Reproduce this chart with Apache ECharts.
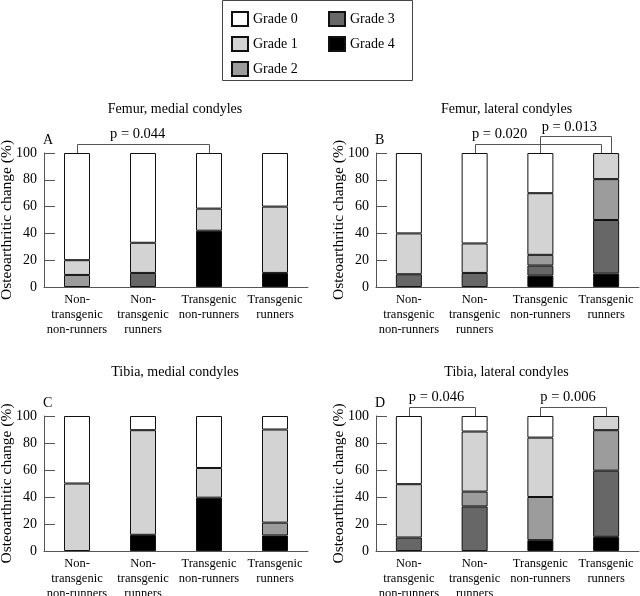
<!DOCTYPE html>
<html>
<head>
<meta charset="utf-8">
<script src="https://cdn.jsdelivr.net/npm/echarts@6/dist/echarts.min.js"></script>
<style>
html,body{margin:0;padding:0;background:#fff;}
#chart{width:640px;height:596px;}
</style>
</head>
<body>
<div id="chart"></div>
<script>
// ---------- data ----------
const categories = ['Non-\ntransgenic\nnon-runners', 'Non-\ntransgenic\nrunners', 'Transgenic\nnon-runners', 'Transgenic\nrunners'];
const grades = ['Grade 0', 'Grade 1', 'Grade 2', 'Grade 3', 'Grade 4'];
const panelTitles = ['Femur, medial condyles', 'Femur, lateral condyles', 'Tibia, medial condyles', 'Tibia, lateral condyles'];
const panelLetters = ['A', 'B', 'C', 'D'];

// Femur, medial condyles (A)
const femurMedialG0 = [80, 67, 41.5, 40];
const femurMedialG1 = [11, 22.5, 16.5, 49.5];
const femurMedialG2 = [9, 0, 0, 0];
const femurMedialG3 = [0, 10.5, 0, 0];
const femurMedialG4 = [0, 0, 42, 10.5];
// Femur, lateral condyles (B)
const femurLateralG0 = [60, 67.5, 30, 0];
const femurLateralG1 = [30.5, 22, 46, 19.5];
const femurLateralG2 = [0, 0, 8, 30.5];
const femurLateralG3 = [9.5, 10.5, 7.5, 40];
const femurLateralG4 = [0, 0, 8.5, 10];
// Tibia, medial condyles (C)
const tibiaMedialG0 = [50, 10.5, 38.5, 10];
const tibiaMedialG1 = [50, 77.5, 22, 69];
const tibiaMedialG2 = [0, 0, 0, 9.5];
const tibiaMedialG3 = [0, 0, 0, 0];
const tibiaMedialG4 = [0, 12, 39.5, 11.5];
// Tibia, lateral condyles (D)
const tibiaLateralG0 = [50.5, 11.5, 16, 0];
const tibiaLateralG1 = [39.5, 44.5, 44, 10.5];
const tibiaLateralG2 = [0, 11, 32, 30];
const tibiaLateralG3 = [10, 33, 0, 49];
const tibiaLateralG4 = [0, 0, 8, 10.5];

// significance brackets: panel, from category, to category, top/bottom values, label and label position
const bracketPanel = [0, 1, 1, 3, 3];
const bracketFrom = [0, 1, 2, 0, 2];
const bracketTo = [2, 2.92, 3.08, 1, 3];
const bracketTop = [107, 107, 113, 107, 107];
const bracketBottom = [91, 91, 91, 91, 91];
const bracketLabels = ['p = 0.044', 'p = 0.020', 'p = 0.013', 'p = 0.046', 'p = 0.006'];
const bracketLabelX = [0.92, 1.38, 2.44, 0.42, 2.42];
const bracketLabelY = [114, 114, 119.5, 114, 114];

// ---------- styling ----------
const gradeColors = ['#ffffff', '#d3d3d3', '#9c9c9c', '#676767', '#000000'];
const FONT = '"Liberation Serif", "Times New Roman", serif';
const axisGray = '#555555';

const panels = [
  [femurMedialG0, femurMedialG1, femurMedialG2, femurMedialG3, femurMedialG4],
  [femurLateralG0, femurLateralG1, femurLateralG2, femurLateralG3, femurLateralG4],
  [tibiaMedialG0, tibiaMedialG1, tibiaMedialG2, tibiaMedialG3, tibiaMedialG4],
  [tibiaLateralG0, tibiaLateralG1, tibiaLateralG2, tibiaLateralG3, tibiaLateralG4]
];

const grids = [
  {left: 44, right: 332, top: 153, bottom: 309},
  {left: 376, right: 1, top: 153, bottom: 309},
  {left: 44, right: 332, top: 416, bottom: 45},
  {left: 376, right: 1, top: 416, bottom: 45}
].map(g => Object.assign({containLabel: false, outerBoundsMode: 'none'}, g));

const xAxes = [], yAxes = [], series = [];
panels.forEach((p, i) => {
  xAxes.push({
    type: 'category', gridIndex: i, data: categories,
    axisLine: {lineStyle: {color: axisGray, width: 1}},
    axisTick: {inside: true, length: 10, lineStyle: {color: axisGray}},
    axisLabel: {color: '#000', fontFamily: FONT, fontSize: 12.5, lineHeight: 15, margin: 5, interval: 0}
  });
  yAxes.push({
    type: 'value', gridIndex: i, min: 0, max: 100, interval: 20,
    name: 'Osteoarthritic change (%)', nameLocation: 'middle', nameGap: 29, nameMoveOverlap: false,
    nameTextStyle: {color: '#000', fontFamily: FONT, fontSize: 15.5},
    axisLine: {show: true, lineStyle: {color: axisGray, width: 1}},
    axisTick: {show: true, inside: true, length: 11, lineStyle: {color: axisGray}},
    axisLabel: {color: '#000', fontFamily: FONT, fontSize: 14, margin: 7},
    splitLine: {show: false}
  });
  // stack from Grade 4 (bottom) to Grade 0 (top); empty grades are left out
  for (let g = 4; g >= 0; g--) {
    series.push({
      type: 'bar', name: grades[g], xAxisIndex: i, yAxisIndex: i,
      stack: 'panel' + i, barWidth: 26,
      data: p[g].map(v => (v === 0 ? '-' : v)),
      itemStyle: {color: gradeColors[g], borderColor: '#111', borderWidth: 1},
      emphasis: {disabled: true}, animation: false
    });
  }
});

const legendCommon = {
  orient: 'vertical', itemWidth: 16, itemHeight: 14, itemGap: 9, selectedMode: false,
  icon: 'rect', padding: 0,
  textStyle: {color: '#000', fontFamily: FONT, fontSize: 14}
};

const chart = echarts.init(document.getElementById('chart'), null, {renderer: 'canvas'});
chart.setOption({
  animation: false,
  backgroundColor: '#ffffff',
  grid: grids,
  xAxis: xAxes,
  yAxis: yAxes,
  legend: [
    Object.assign({}, legendCommon, {left: 231, top: 11, data: grades.slice(0, 3)}),
    Object.assign({}, legendCommon, {left: 328, top: 11, data: grades.slice(3)})
  ],
  series: series
});

// annotations placed through the axes
const graphics = [];
graphics.push({type: 'rect', shape: {x: 222.5, y: 0.5, width: 190, height: 80},
  style: {fill: 'none', stroke: '#444', lineWidth: 1}, silent: true});
grids.forEach((g, i) => {
  const pTop = chart.convertToPixel({gridIndex: i}, [0, 100]);
  const axisLeft = g.left;
  const axisRight = 640 - g.right;
  graphics.push({type: 'text', x: (axisLeft + axisRight) / 2 - 1, y: pTop[1] - 44,
    style: {text: panelTitles[i], font: '14px ' + FONT, fill: '#000', align: 'center', verticalAlign: 'middle', textAlign: 'center', textVerticalAlign: 'middle'}});
  graphics.push({type: 'text', x: axisLeft - 1, y: pTop[1] - 13,
    style: {text: panelLetters[i], font: '14px ' + FONT, fill: '#000', align: 'left', verticalAlign: 'middle', textAlign: 'left', textVerticalAlign: 'middle'}});
});
bracketPanel.forEach((pi, k) => {
  const a = chart.convertToPixel({gridIndex: pi}, [0, bracketTop[k]]);
  const b = chart.convertToPixel({gridIndex: pi}, [0, bracketBottom[k]]);
  const ly = chart.convertToPixel({gridIndex: pi}, [0, bracketLabelY[k]])[1];
  const x0 = chart.convertToPixel({gridIndex: pi}, [0, 0])[0];
  const x1c = chart.convertToPixel({gridIndex: pi}, [1, 0])[0];
  const step = x1c - x0;
  const xa = Math.round(x0 + step * bracketFrom[k]) + 0.5;
  const xb = Math.round(x0 + step * bracketTo[k]) + 0.5;
  const yt = Math.round(a[1]) + 0.5, yb = Math.round(b[1]);
  graphics.push({type: 'polyline', silent: true,
    shape: {points: [[xa, yb], [xa, yt], [xb, yt], [xb, yb]]},
    style: {stroke: axisGray, lineWidth: 1, fill: 'none'}});
  graphics.push({type: 'text', x: x0 + step * bracketLabelX[k], y: ly,
    style: {text: bracketLabels[k], font: '14.5px ' + FONT, fill: '#000', align: 'center', verticalAlign: 'middle', textAlign: 'center', textVerticalAlign: 'middle'}});
});
chart.setOption({graphic: graphics});
</script>
</body>
</html>
